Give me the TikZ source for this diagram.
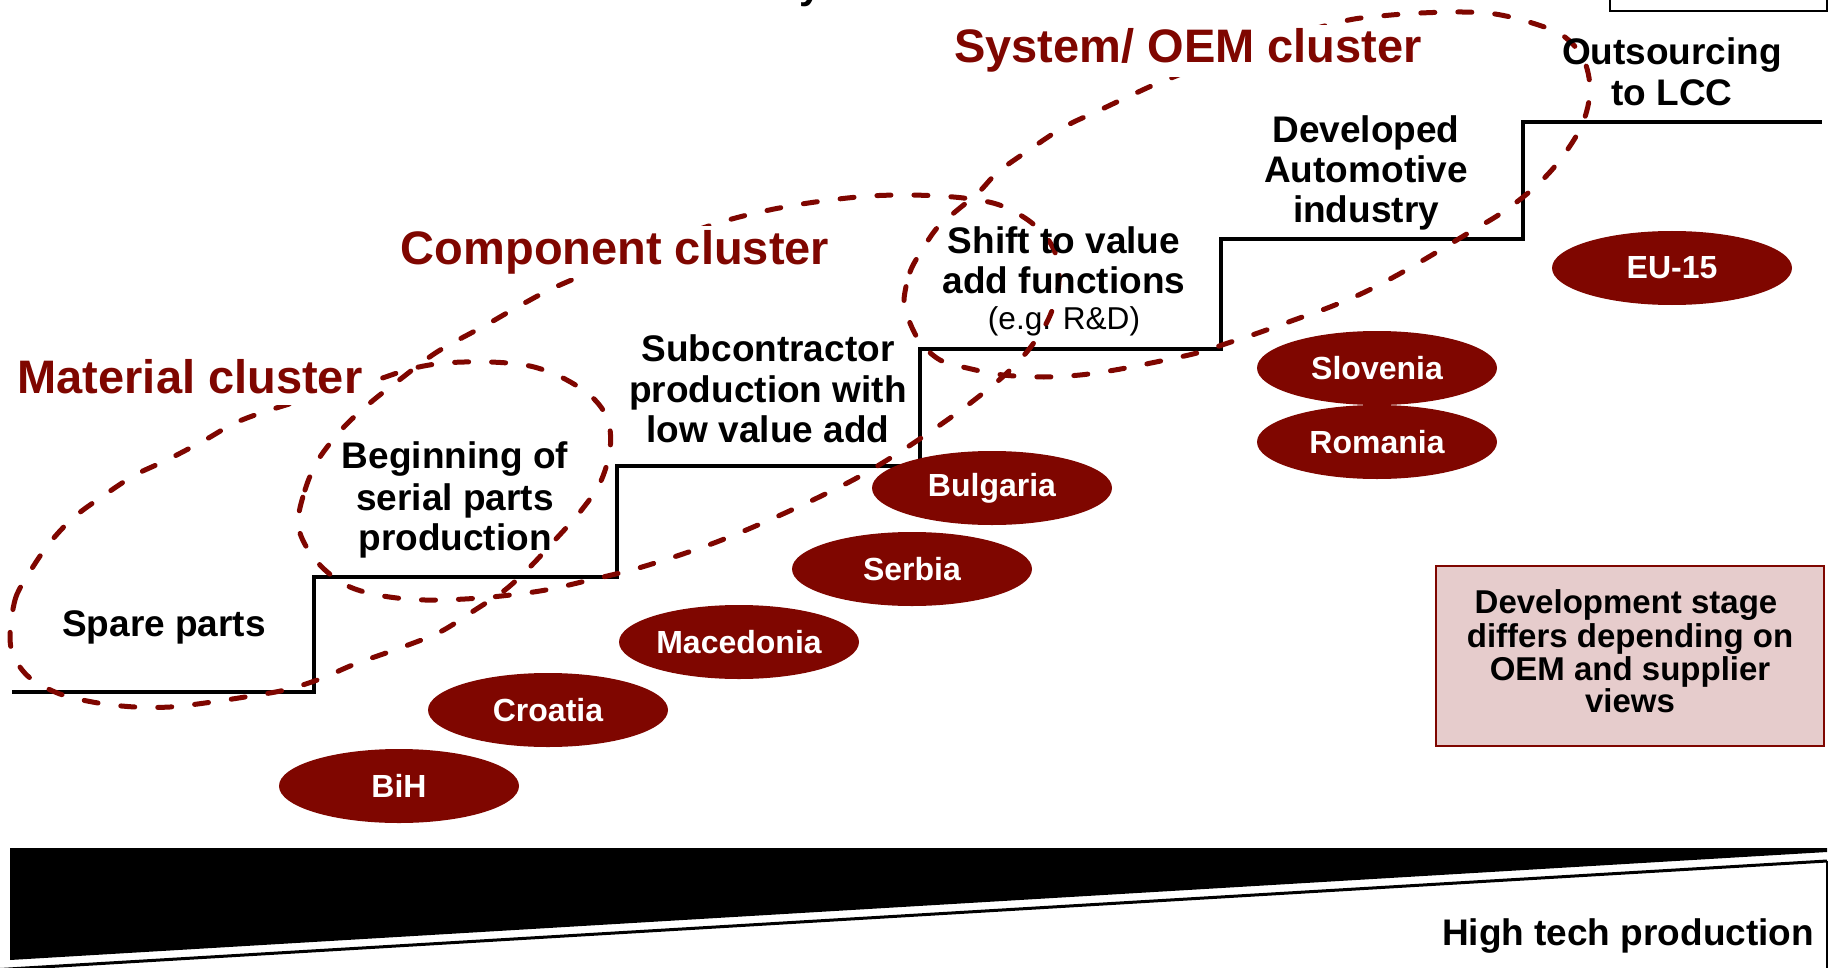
\documentclass[tikz,border=0pt]{standalone}
\usepackage{fontspec}
\setmainfont{Liberation Sans}
\usetikzlibrary{shapes.geometric}
\definecolor{dred}{RGB}{127,6,0}
\definecolor{boxpink}{RGB}{230,204,204}
\tikzset{
  stairline/.style={line width=1.75pt, line join=miter},
  clusterline/.style={draw=dred, line width=2.5pt, line cap=round, dash pattern=on 7pt off 11.5pt},
  clabel/.style={font=\bfseries\fontsize{23.5}{26}\selectfont, text=dred, fill=white, inner sep=2pt, anchor=base},
  stxt/.style={font=\bfseries\fontsize{18.5}{20.5}\selectfont, inner sep=0pt, anchor=base},
  etxt/.style={font=\fontsize{15.8}{18}\selectfont, inner sep=0pt, anchor=base},
  btxt/.style={font=\bfseries\fontsize{16.5}{18}\selectfont, inner sep=0pt, anchor=base},
  country/.style={ellipse, fill=dred, minimum width=120pt, minimum height=37pt, inner sep=0pt, text=white, font=\bfseries\fontsize{16}{18}\selectfont},
}
\begin{document}
\begin{tikzpicture}[x=0.5pt,y=-0.5pt]
\useasboundingbox (0,0) rectangle (1835,968);

% partial title (cut off at top)
\node[font=\bfseries\fontsize{20}{24}\selectfont, inner sep=0pt, anchor=base] (ttl) at (811,-1) {y};
% partial box at top right
\draw[line width=1.2pt] (1610,-20) rectangle (1827,11);

% staircase
\draw[stairline] (12,692) -- (314,692) -- (314,577) -- (617,577) -- (617,466) -- (920,466)
  -- (920,349) -- (1221,349) -- (1221,239) -- (1523,239) -- (1523,122) -- (1822,122);

% material cluster outline
\draw[clusterline] plot[smooth cycle, tension=0.55] coordinates {
 (10,635) (15,600) (26,578) (48,545) (73,518) (103,496) (135,475) (167,460) (205,440)
 (235,423) (270,410) (330,392) (376,380) (410,369) (445,363) (490,362) (530,366)
 (563,378) (592,397) (608,420) (610,450) (600,483) (580,512) (555,540) (530,567)
 (505,590) (475,610) (440,632) (400,648) (355,664) (320,679) (285,690) (245,697)
 (205,703) (170,707) (135,707) (98,703) (60,694) (30,678) (14,657)};

% component cluster outline
\draw[clusterline] plot[smooth cycle, tension=0.55] coordinates {
 (298,523) (305,490) (318,460) (343,428) (370,403) (398,381) (437,352) (486,325)
 (521,305) (560,285) (640,252) (718,223) (790,206) (870,196) (940,196) (993,203)
 (1025,218) (1047,238) (1058,262) (1058,290) (1048,320) (1030,348) (1008,372)
 (982,394) (950,418) (903,450) (853,480) (785,513) (714,543) (642,567) (590,580)
 (540,591) (480,598) (425,600) (383,596) (350,587) (325,570) (307,548)};

% system / OEM cluster outline
\draw[clusterline] plot[smooth cycle, tension=0.55] coordinates {
 (904,300) (910,272) (922,250) (937,228) (955,212) (978,193) (998,172) (1029,150)
 (1064,127) (1100,110) (1136,93) (1166,80) (1250,48) (1340,22) (1381,16) (1421,13)
 (1462,12) (1495,14) (1529,22) (1562,35) (1583,58) (1590,90) (1582,125) (1560,160)
 (1535,187) (1503,212) (1470,232) (1437,252) (1401,273) (1365,292) (1330,307)
 (1294,320) (1258,333) (1228,343) (1197,353) (1156,362) (1115,370) (1080,375)
 (1044,377) (1003,375) (967,368) (940,360) (920,342) (908,318)};

% cluster labels
\node[clabel, text depth=4pt] (lmat) at (190,393) {Material cluster};
\node[clabel] (lcomp) at (615,264) {Component cluster};
\node[clabel] (lsys) at (1188,63) {System/ OEM cluster};

% step texts
\node[stxt] (sp) at (164,636) {Spare parts};
\node[stxt] (bg1) at (455,468) {Beginning of};
\node[stxt] (bg2) at (455,510) {serial parts};
\node[stxt] (bg3) at (455,550) {production};
\node[stxt] (sc1) at (768,361) {Subcontractor};
\node[stxt] (sc2) at (768,402) {production with};
\node[stxt] (sc3) at (768,442) {low value add};
\node[stxt] (sh1) at (1064,254) {Shift to value};
\node[stxt] (sh2) at (1064,293) {add functions};
\node[etxt] (sh3) at (1064,329) {(e.g. R\&D)};
\node[stxt] (dv1) at (1366,143) {Developed};
\node[stxt] (dv2) at (1366,183) {Automotive};
\node[stxt] (dv3) at (1366,223) {industry};
\node[stxt] (os1) at (1672,65) {Outsourcing};
\node[stxt] (os2) at (1672,106) {to LCC};

% countries
\node[country] (bih) at (399,786) {BiH};
\node[country] (cro) at (548,710) {Croatia};
\node[country] (mac) at (739,642) {Macedonia};
\node[country] (ser) at (912,569) {Serbia};
\node[country] (bul) at (992,488) {Bulgaria};
\node[country] (slo) at (1377,368) {Slovenia};
\node[country] (rom) at (1377,442) {Romania};
\node[country] (eu) at (1672,268) {EU-15};

% note box
\node[draw=dred, line width=1pt, fill=boxpink, minimum width=194pt, minimum height=90pt, inner sep=0pt] (note) at (1630,656) {};
\node[btxt] (nt1) at (1626,613.5) {Development stage};
\node[btxt] (nt2) at (1630,647.5) {differs depending on};
\node[btxt] (nt3) at (1630,680.5) {OEM and supplier};
\node[btxt] (nt4) at (1630,712.5) {views};

% bottom wedge
\fill (10,848) -- (1827,848) -- (1827,852) -- (10,960) -- cycle;
\draw[line width=1.5pt] (0,969.5) -- (1827,861);
\draw[line width=0.75pt] (1827,861) -- (1827,975);
\node[stxt] (ht) at (1628,945) {High tech production};
\end{tikzpicture}
\end{document}
